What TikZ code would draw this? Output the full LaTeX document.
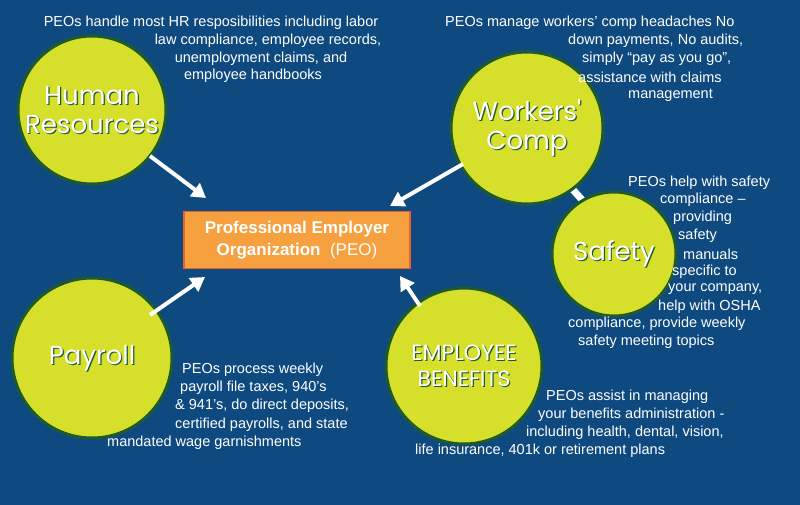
\documentclass[tikz,border=0pt]{standalone}
\usepackage{fontspec}
\setmainfont{Liberation Sans}
\newfontfamily\titlefont{Poppins}
\usetikzlibrary{arrows.meta,calc}
\definecolor{bg}{HTML}{0E4A80}
\definecolor{lime}{HTML}{D6E02A}
\definecolor{dgreen}{HTML}{1F5A2E}
\definecolor{boxor}{HTML}{F7A040}
\definecolor{boxbd}{HTML}{E8632A}
\tikzset{
 topic/.style={circle,fill=lime,draw=dgreen,line width=3pt,inner sep=0pt},
 ttl/.style={align=center,text=white,font=\titlefont\fontsize{26}{29}\selectfont},
 shd/.style={align=center,text=dgreen,font=\titlefont\fontsize{26}{29}\selectfont},
 desc/.style={text=white,font=\fontsize{14.5}{17}\selectfont,inner sep=0pt},
 arr/.style={white,line width=4pt,-{Triangle[length=14pt,width=16pt]}},
}
\newcommand{\ttlnode}[3][]{\node[shd,#1] at ($(#2)+(1.2,1.2)$) {#3};\node[ttl,#1] at (#2) {#3};}
\begin{document}
\begin{tikzpicture}[x=1pt,y=-1pt]
\fill[bg] (0,0) rectangle (800,505);
\useasboundingbox (0,0) rectangle (800,505);
\draw[white,line width=7pt] (566,182) -- (584,202);
\node[topic,minimum size=148pt] (hr) at (92,110) {};
\node[topic,minimum size=152pt] (wc) at (527,128) {};
\node[topic,minimum size=124pt] (sf) at (614,254) {};
\node[topic,minimum size=160pt] (pr) at (92,358) {};
\node[topic,minimum size=156pt] (eb) at (464,366) {};
\ttlnode{hr}{Human\\Resources}
\ttlnode{wc}{Workers'\\Comp}
\ttlnode{sf}{Safety}
\ttlnode{pr}{Payroll}
\ttlnode[font=\titlefont\fontsize{22}{26}\selectfont]{eb}{EMPLOYEE\\BENEFITS}
\node[fill=boxor,draw=boxbd,line width=1.5pt,minimum width=226pt,minimum height=57pt,align=center,text=white,font=\fontsize{17}{22}\selectfont] (peo) at (297,240) {\textbf{Professional Employer}\\\textbf{Organization}\ \ (PEO)};
\draw[arr] (150,156) -- (206,198);
\draw[arr] (463,164) -- (390,206);
\draw[arr] (150,315) -- (205,277);
\draw[arr] (420,306) -- (400,276);
\node[desc] at (211,23) {PEOs handle most HR resposibilities including labor};
\node[desc] at (268,41) {law compliance, employee records,};
\node[desc] at (261,59) {unemployment claims, and};
\node[desc] at (253,76) {employee handbooks};
\node[desc,anchor=west] at (445,23) {PEOs manage workers' comp headaches No};
\node[desc,anchor=west] at (568,41) {down payments, No audits,};
\node[desc,anchor=west] at (582,59) {simply ``pay as you go'',};
\node[desc,anchor=west] at (578,77) {assistance with claims};
\node[desc,anchor=west] at (628,95) {management};
\node[desc,anchor=west] at (628,183) {PEOs help with safety};
\node[desc,anchor=west] at (660,200) {compliance --};
\node[desc,anchor=west] at (673,218) {providing};
\node[desc,anchor=west] at (678,236) {safety};
\node[desc,anchor=west] at (683,254) {manuals};
\node[desc,anchor=west] at (672,272) {specific to};
\node[desc,anchor=west] at (668,289) {your company,};
\node[desc,anchor=west] at (658,307) {help with OSHA};
\node[desc,anchor=west] at (568,324) {compliance, provide weekly};
\node[desc,anchor=west] at (578,342) {safety meeting topics};
\node[desc,anchor=west] at (182,370) {PEOs process weekly};
\node[desc,anchor=west] at (180,388) {payroll file taxes, 940's};
\node[desc,anchor=west] at (175,406) {\& 941's, do direct deposits,};
\node[desc,anchor=west] at (175,425) {certified payrolls, and state};
\node[desc,anchor=west] at (107,443) {mandated wage garnishments};
\node[desc,anchor=west] at (546,397) {PEOs assist in managing};
\node[desc,anchor=west] at (538,415) {your benefits administration -};
\node[desc,anchor=west] at (526,433) {including health, dental, vision,};
\node[desc,anchor=west] at (415,451) {life insurance, 401k or retirement plans};
\end{tikzpicture}
\end{document}
